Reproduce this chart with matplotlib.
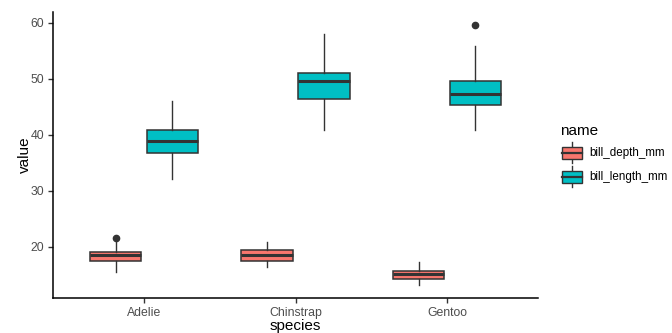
import matplotlib
matplotlib.use("Agg")
from matplotlib import pyplot as plt
from matplotlib.legend_handler import HandlerBase
from matplotlib.patches import Rectangle
from matplotlib.lines import Line2D

plt.rcParams['font.family'] = ['Liberation Sans', 'DejaVu Sans']

species = ["Adelie", "Chinstrap", "Gentoo"]
series = ["bill_depth_mm", "bill_length_mm"]
colors = ["#F8766D", "#00BFC4"]

# five-number summaries: (whislo, q1, med, q3, whishi)
depth_stats = [(15.5, 17.5, 18.4, 19.0, 21.2), (16.4, 17.5, 18.45, 19.4, 20.8), (13.1, 14.2, 15.0, 15.7, 17.3)]
length_stats = [(32.1, 36.75, 38.8, 40.75, 46.0), (40.9, 46.35, 49.55, 51.08, 58.0), (40.9, 45.3, 47.3, 49.55, 55.9)]
depth_outliers = [[21.5], [], []]
length_outliers = [[], [], [59.6]]

EDGE = "#333333"


class BoxKey(HandlerBase):
    def create_artists(self, legend, orig_handle, xdescent, ydescent, width, height, fontsize, trans):
        fc = orig_handle.get_facecolor()
        x0, y0 = -xdescent, -ydescent
        rect = Rectangle((x0 + 0.08 * width, y0 + 0.18 * height), 0.84 * width, 0.64 * height,
                         facecolor=fc, edgecolor=EDGE, linewidth=1.0, transform=trans)
        med = Line2D([x0 + 0.08 * width, x0 + 0.92 * width], [y0 + 0.5 * height] * 2,
                     color=EDGE, linewidth=1.6, transform=trans)
        w1 = Line2D([x0 + 0.5 * width] * 2, [y0 - 0.05 * height, y0 + 0.18 * height],
                    color=EDGE, linewidth=1.0, transform=trans)
        w2 = Line2D([x0 + 0.5 * width] * 2, [y0 + 0.82 * height, y0 + 1.05 * height],
                    color=EDGE, linewidth=1.0, transform=trans)
        return [w1, w2, rect, med]


def make_stats(rows, outliers):
    out = []
    for (lo, q1, md, q3, hi), fl in zip(rows, outliers):
        out.append(dict(whislo=lo, q1=q1, med=md, q3=q3, whishi=hi, fliers=fl))
    return out


def main():
    fig = plt.figure(figsize=(6.72, 3.33), dpi=100)
    ax = fig.add_axes([53 / 672, 1 - 298 / 333, (538 - 53) / 672, (298 - 12) / 333])

    handles = []
    for k, (rows, fl) in enumerate([(depth_stats, depth_outliers), (length_stats, length_outliers)]):
        offset = -0.1875 if k == 0 else 0.1875
        pos = [i + 1 + offset for i in range(len(species))]
        bp = ax.bxp(make_stats(rows, fl), positions=pos, widths=0.34, patch_artist=True,
                    showcaps=False,
                    boxprops=dict(facecolor=colors[k], edgecolor=EDGE, linewidth=1.1),
                    medianprops=dict(color=EDGE, linewidth=2.2, solid_capstyle='butt'),
                    whiskerprops=dict(color=EDGE, linewidth=1.0),
                    flierprops=dict(marker='o', markerfacecolor=EDGE, markeredgecolor=EDGE, markersize=4.5))
        handles.append(bp['boxes'][0])

    ax.set_xlim(0.4, 3.6)
    ax.set_ylim(10.8, 61.9)
    ax.set_xticks([1, 2, 3])
    ax.set_xticklabels(species)
    ax.set_yticks([20, 30, 40, 50, 60])

    for side in ['top', 'right']:
        ax.spines[side].set_visible(False)
    for side in ['left', 'bottom']:
        ax.spines[side].set_linewidth(1.1)
        ax.spines[side].set_color('black')
    ax.tick_params(axis='both', length=3.5, width=1.0, color=EDGE, labelcolor='#4D4D4D', labelsize=8.8, pad=3)

    ax.set_xlabel('species', fontsize=11, labelpad=0)
    ax.set_ylabel('value', fontsize=11, labelpad=-1)

    leg = ax.legend(handles, series, title='name', handler_map={h: BoxKey() for h in handles},
                    loc='center left', bbox_to_anchor=(557 / 672, 1 - 155 / 333),
                    bbox_transform=fig.transFigure, frameon=False, fontsize=8.4, title_fontsize=11,
                    handlelength=2.0, handleheight=2.1, labelspacing=0.45, handletextpad=0.45,
                    alignment='left', borderaxespad=0, borderpad=0.3)

    fig.savefig('out.png', dpi=100)


if __name__ == '__main__':
    main()
